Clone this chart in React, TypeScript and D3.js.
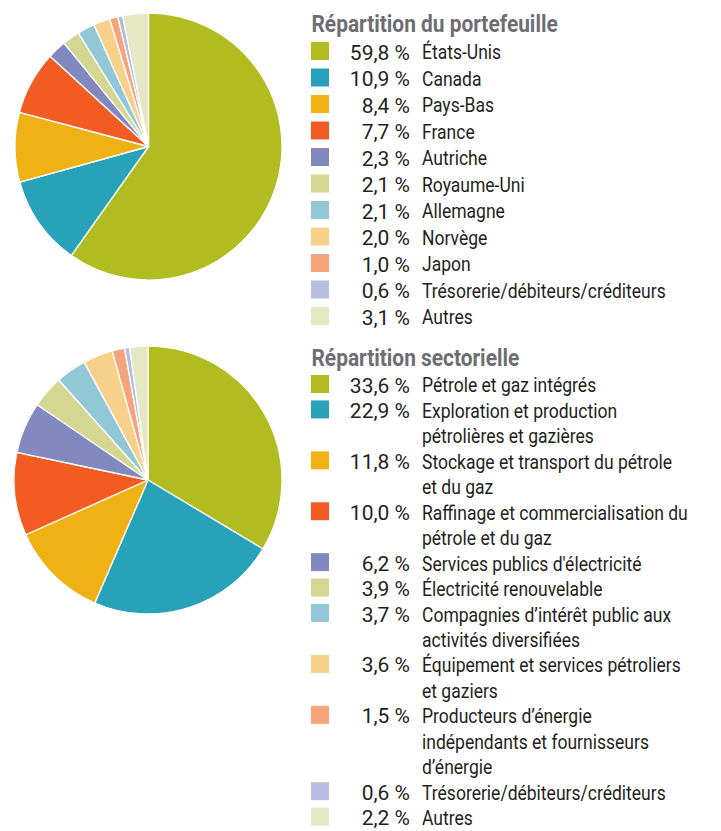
import React from "react";
import * as d3 from "d3";

const countryLabels = [
  "États-Unis", "Canada", "Pays-Bas", "France", "Autriche", "Royaume-Uni",
  "Allemagne", "Norvège", "Japon", "Trésorerie/débiteurs/créditeurs", "Autres",
];
const countryValues = [59.8, 10.9, 8.4, 7.7, 2.3, 2.1, 2.1, 2.0, 1.0, 0.6, 3.1];

const sectorLabels = [
  "Pétrole et gaz intégrés",
  "Exploration et production\npétrolières et gazières",
  "Stockage et transport du pétrole\net du gaz",
  "Raffinage et commercialisation du\npétrole et du gaz",
  "Services publics d'électricité",
  "Électricité renouvelable",
  "Compagnies d’intérêt public aux\nactivités diversifiées",
  "Équipement et services pétroliers\net gaziers",
  "Producteurs d’énergie\nindépendants et fournisseurs\nd’énergie",
  "Trésorerie/débiteurs/créditeurs",
  "Autres",
];
const sectorValues = [33.6, 22.9, 11.8, 10.0, 6.2, 3.9, 3.7, 3.6, 1.5, 0.6, 2.2];

const palette = [
  "#b1bc21", "#27a2b8", "#f0b114", "#f25c23", "#8288c0", "#d3d792",
  "#92c8d6", "#f7d18a", "#f6a47c", "#b8bde0", "#e6e8c4",
];

const titles = ["Répartition du portefeuille", "Répartition sectorielle"];

const fmt = (v: number) => v.toFixed(1).replace(".", ",") + " %";

const FONT = "Roboto, 'Liberation Sans', sans-serif";
const SX = 0.834;
const TSX = 0.87;

function Pie({ cx, cy, r, values }: { cx: number; cy: number; r: number; values: number[] }) {
  const pie = d3.pie<number>().sort(null).value((d) => d)(values);
  const arc = d3.arc<d3.PieArcDatum<number>>().innerRadius(0).outerRadius(r);
  return (
    <g transform={`translate(${cx},${cy})`}>
      {pie.map((p, i) => (
        <path key={i} d={arc(p) || ""} fill={palette[i]} stroke="#fff" strokeWidth={1.3} strokeLinejoin="round" />
      ))}
    </g>
  );
}

function Legend({
  title, titleY, firstY, lineH, labels, values,
}: { title: string; titleY: number; firstY: number; lineH: number; labels: string[]; values: number[] }) {
  const items: JSX.Element[] = [];
  let line = 0;
  labels.forEach((lab, i) => {
    const y = firstY + line * lineH;
    const lines = lab.split("\n");
    items.push(
      <g key={i}>
        <rect x={311} y={y - 17.5} width={18} height={18} fill={palette[i]} />
        <text x={410} y={y} textAnchor="end"
          fontSize={21} fill="#231f20" fontFamily={FONT}>{fmt(values[i])}</text>
        {lines.map((l, j) => (
          <text key={j} x={422 / SX} y={y + j * lineH} transform={`scale(${SX},1)`}
            fontSize={21} fill="#231f20" fontFamily={FONT}>{l}</text>
        ))}
      </g>
    );
    line += lines.length;
  });
  return (
    <g>
      <text x={311.5 / TSX} y={titleY} transform={`scale(${TSX},1)`} fontSize={24} fontWeight={700}
        fill="#6d6e71" fontFamily={FONT}>{title}</text>
      {items}
    </g>
  );
}

export default function App() {
  return (
    <svg width={721} height={831} style={{ position: "absolute", left: 0, top: 0, background: "#fff" }}>
      <rect width={721} height={831} fill="#fff" />
      <Pie cx={148.5} cy={146.5} r={133.5} values={countryValues} />
      <Pie cx={148} cy={480} r={134} values={sectorValues} />
      <Legend title={titles[0]} titleY={32} firstY={59.5} lineH={26.5} labels={countryLabels} values={countryValues} />
      <Legend title={titles[1]} titleY={366} firstY={392.5} lineH={25.45} labels={sectorLabels} values={sectorValues} />
    </svg>
  );
}
